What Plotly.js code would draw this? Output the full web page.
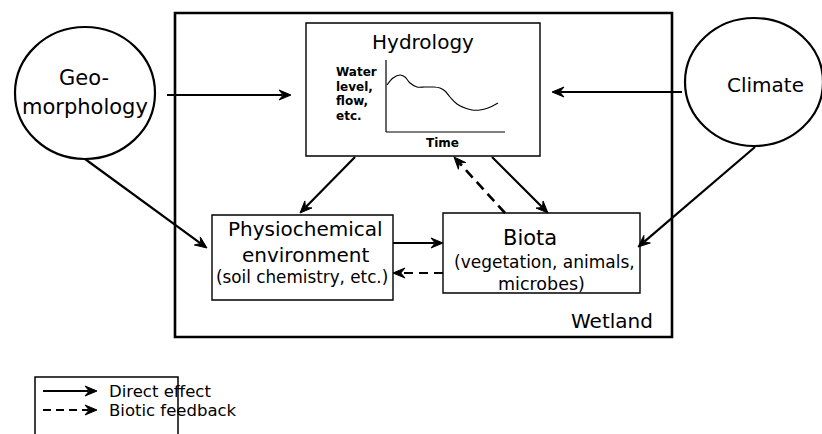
<!DOCTYPE html>
<html><head><meta charset="utf-8">
<script src="https://cdn.plot.ly/plotly-3.0.1.min.js"></script>
<style>html,body{margin:0;padding:0;background:#fff}#c{width:822px;height:434px}</style>
</head><body><div id="c"></div>
<script>
// Hydrograph sketch inside the Hydrology box (time vs water level, arbitrary units)
const hydroTime  = [1, 7, 14, 19, 24, 31, 39, 47, 54, 59, 64, 71, 79, 86, 94, 102, 112];
const hydroLevel = [47, 54, 57, 55, 49, 45, 45, 45, 44, 41, 35, 28, 24, 22, 22, 24, 29];

// Diagram labels
const nodeGeo = ["Geo-", "morphology"];
const nodeClimate = ["Climate"];
const nodeHydro = "Hydrology";
const hydroYLabel = ["Water", "level,", "flow,", "etc."];
const hydroXLabel = "Time";
const nodePhysio = ["Physiochemical", "environment", "(soil chemistry, etc.)"];
const nodeBiota = ["Biota", "(vegetation, animals,", "microbes)"];
const systemLabel = "Wetland";
const legendLabels = ["Direct effect", "Biotic feedback"];

const FONT = "DejaVu Sans, Verdana, sans-serif";
const INK = "#000";
const shapes = [];
const ann = [];

function rect(x0,y0,x1,y1,w){shapes.push({type:'rect',xref:'x',yref:'y',x0,y0,x1,y1,line:{color:INK,width:w},fillcolor:'rgba(0,0,0,0)'});}
function ellipse(cx,cy,rx,ry,w){shapes.push({type:'circle',xref:'x',yref:'y',x0:cx-rx,x1:cx+rx,y0:cy-ry,y1:cy+ry,line:{color:INK,width:w}});}
function seg(x0,y0,x1,y1,w,dash){shapes.push({type:'line',xref:'x',yref:'y',x0,y0,x1,y1,line:{color:INK,width:w,dash:dash||'solid'}});}
function arrow(x0,y0,x1,y1,dash,w){
  w = w||2.2;
  const dx=x1-x0, dy=y1-y0, L=Math.hypot(dx,dy), ux=dx/L, uy=dy/L, nx=-uy, ny=ux;
  const hl=12, hw=5;
  seg(x0,y0,x1-ux*hl*0.7,y1-uy*hl*0.7,w,dash);
  const bx=x1-ux*hl, by=y1-uy*hl;
  shapes.push({type:'path',xref:'x',yref:'y',
    path:`M${x1},${y1} L${bx+nx*hw},${by+ny*hw} L${x1-ux*hl*0.65},${y1-uy*hl*0.65} L${bx-nx*hw},${by-ny*hw} Z`,
    line:{color:INK,width:1},fillcolor:INK});
}
function text(x,y,t,size,opts){ann.push(Object.assign({xref:'x',yref:'y',x,y,text:t,showarrow:false,
  xanchor:'center',yanchor:'middle',font:{family:FONT,size,color:INK}},opts||{}));}
const boldF = s => ({family:FONT,size:s,color:INK,weight:'bold'});

// Wetland frame
rect(175,13,672,337,2.6);
text(612,321,systemLabel,20);

// Hydrology box
rect(306,23,540,156,1.4);
text(423,42,nodeHydro,20);
seg(386,60,386,132,1.2);
seg(386,132,505,132,1.2);
hydroYLabel.forEach((t,i)=>text(334,72+i*14.5,t,12,{xanchor:'left',font:boldF(12)}));
text(442,143,hydroXLabel,12,{font:boldF(12)});

// Geomorphology circle
ellipse(85,93,70,66,2.2);
text(84,78,nodeGeo[0],21);
text(85,107,nodeGeo[1],21);

// Climate circle
ellipse(754,82,69,64,2.2);
text(765,85,nodeClimate[0],20);

// Physiochemical box
rect(212,215,393,300,1.4);
text(305,229,nodePhysio[0],20);
text(306,255,nodePhysio[1],20);
text(302,277,nodePhysio[2],16.8);

// Biota box
rect(443,213,640,293,1.4);
text(530,238,nodeBiota[0],21);
text(544,262,nodeBiota[1],17);
text(541,284,nodeBiota[2],17.5);

// Arrows
arrow(167,95,291,95);
arrow(682,92,552,92);
arrow(85,159,207,248);
arrow(755,147,638,247);
arrow(355,157,300,213);
arrow(492,157,548,213);
arrow(505,213,454,157,'10px,6px',2.6);
arrow(393,243,443,243);
arrow(443,273,393,273,'9px,6px');

// Legend
shapes.push({type:'rect',xref:'x',yref:'y',x0:35,y0:377,x1:178,y1:445,line:{color:INK,width:1.5},fillcolor:'rgba(0,0,0,0)'});
arrow(43,391,97,391);
arrow(43,410,97,410,'8px,5px');
text(107,391,legendLabels[0],16.5,{xanchor:'left'});
text(107,410,legendLabels[1],16.5,{xanchor:'left'});

const trace = {x:hydroTime,y:hydroLevel,xaxis:'x2',yaxis:'y2',type:'scatter',mode:'lines',
  line:{color:INK,width:1.1,shape:'spline'},hoverinfo:'skip'};

const layout = {
  width:822,height:434,margin:{l:0,r:0,t:0,b:0},paper_bgcolor:'#fff',plot_bgcolor:'#fff',showlegend:false,
  xaxis:{range:[0,822],visible:false,fixedrange:true},
  yaxis:{range:[434,0],visible:false,fixedrange:true},
  xaxis2:{domain:[386/822,505/822],range:[0,119],visible:false,anchor:'y2'},
  yaxis2:{domain:[1-132/434,1-60/434],range:[0,72],visible:false,anchor:'x2'},
  shapes, annotations:ann
};
Plotly.newPlot('c',[trace],layout,{staticPlot:true,displayModeBar:false});
</script></body></html>
